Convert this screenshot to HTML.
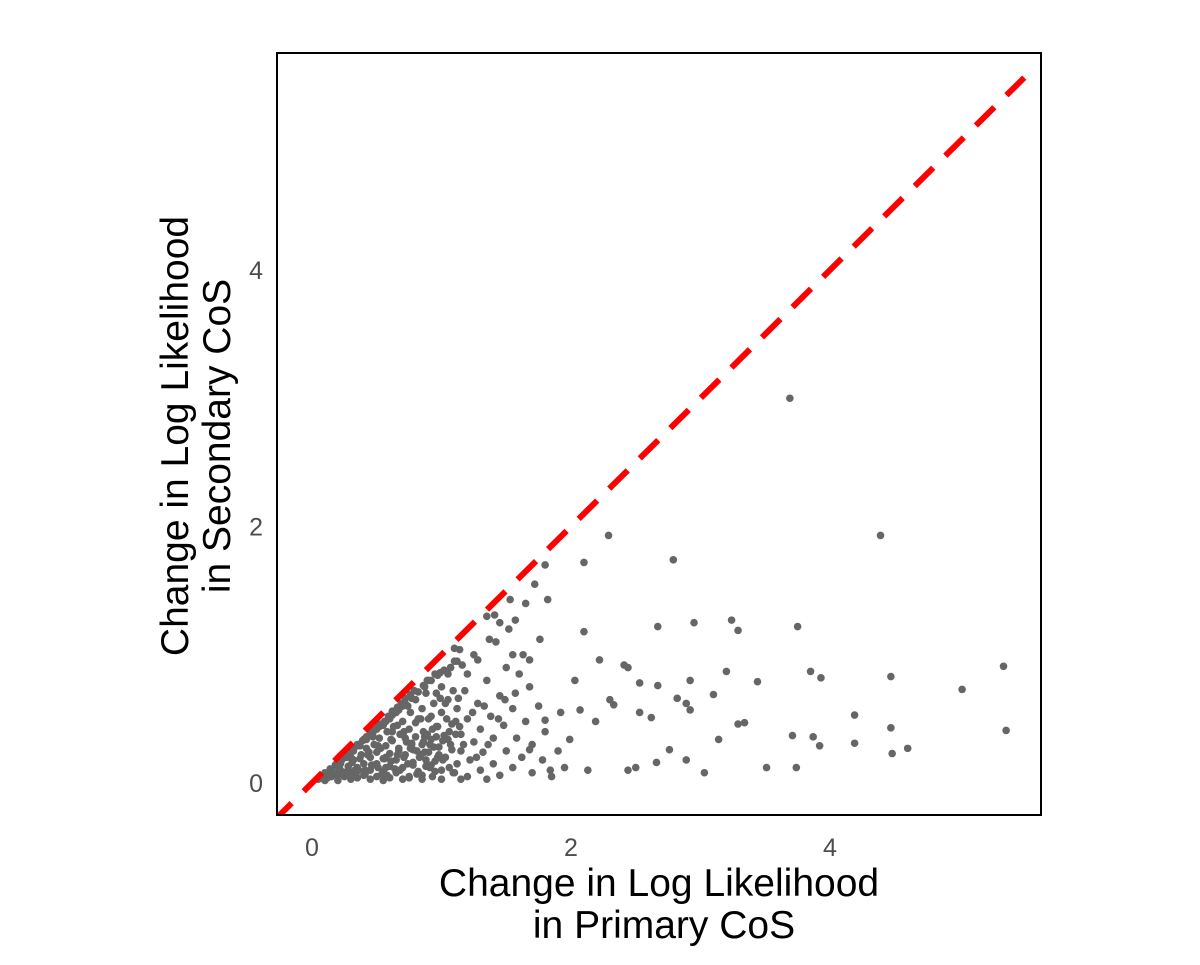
<!DOCTYPE html>
<html><head><meta charset="utf-8"><style>
body{margin:0;background:#fff;}
svg text{font-family:"Liberation Sans",sans-serif;}
</style></head><body>
<svg id="chart" width="1200" height="960" xmlns="http://www.w3.org/2000/svg">
<rect x="0" y="0" width="1200" height="960" fill="#fff"/>
<defs><clipPath id="clip"><rect x="277" y="53" width="764" height="762"/></clipPath></defs>
<g id="points" clip-path="url(#clip)"></g>
<g id="refline" clip-path="url(#clip)"></g>
<rect x="277" y="53" width="764" height="762" fill="none" stroke="#000" stroke-width="2"/>
<g id="xticks"></g>
<g id="yticks"></g>
<text x="659" y="896" font-size="39" text-anchor="middle" fill="#000">Change in Log Likelihood</text>
<text x="664" y="938" font-size="39" text-anchor="middle" fill="#000">in Primary CoS</text>
<text transform="translate(188,436) rotate(-90)" font-size="39" text-anchor="middle" fill="#000">Change in Log Likelihood</text>
<text transform="translate(230,436) rotate(-90)" font-size="39" text-anchor="middle" fill="#000">in Secondary CoS</text>
</svg>
<script>
const xTicks=[0,2,4];
const yTicks=[0,2,4];
const xs=[3.69,4.39,2.29,2.79,2.10,1.80,5.34,5.02,4.47,5.36,4.19,4.47,4.60,4.48,4.19,3.92,3.93,3.85,3.87,3.74,3.75,3.71,3.51,3.44,3.29,3.34,3.24,3.29,3.20,3.10,2.95,3.03,2.92,3.14,2.89,2.82,2.92,2.67,2.67,2.53,2.41,2.44,2.30,2.33,2.19,2.53,2.62,2.76,2.89,2.66,2.50,2.44,2.10,2.22,2.03,2.07,1.99,2.13,1.84,1.82,1.76,1.68,1.57,1.53,1.41,1.37,1.28,1.14,1.80,1.68,1.49,
0.05,0.08,0.1,0.12,0.15,0.15,0.18,0.2,0.2,0.22,0.25,0.25,0.28,0.3,0.3,0.32,0.35,0.35,0.35,0.38,0.4,0.4,0.4,0.42,0.45,0.45,0.45,0.48,0.5,0.5,0.5,0.5,0.52,0.55,0.55,0.55,0.57,0.58,0.6,0.6,0.6,0.6,0.62,0.63,0.65,0.65,0.65,0.67,0.68,0.7,0.7,0.7,0.72,0.73,0.75,0.75,0.76,0.78,0.78,0.8,0.8,0.8,0.82,0.83,0.85,0.85,0.86,0.88,0.88,0.9,0.9,0.92,0.93,0.94,0.95,0.96,0.98,1.0,1.0,1.0,1.02,1.03,1.05,1.05,1.07,1.08,1.1,1.1,1.12,1.12,1.15,1.15,1.18,1.2,1.2,1.22,1.25,1.25,1.28,1.3,1.3,1.32,1.35,1.38,1.4,1.4,1.42,1.45,1.45,1.48,1.5,1.52,1.55,1.55,1.58,1.6,1.62,1.65,1.65,1.7,1.7,1.72,1.75,1.78,1.8,1.85,1.9,1.92,1.95,0.3,0.33,0.43,0.47,0.53,0.57,0.62,0.66,0.72,0.74,0.77,0.84,0.87,0.89,0.93,0.97,0.99,1.04,1.06,1.09,1.14,1.17,1.24,1.27,1.33,1.36,1.44,1.5,1.57,1.63,1.68,0.1,0.2,0.3,0.45,0.55,0.7,0.85,1.0,1.15,1.35,0.95,0.9,1.1,1.2,1.35,1.45,1.55,
0.12,0.14,0.17,0.19,0.21,0.23,0.24,0.26,0.27,0.29,0.31,0.33,0.34,0.36,0.37,0.39,0.41,0.42,0.44,0.46,0.47,0.49,0.51,0.52,0.54,0.56,0.57,0.59,0.61,0.62,0.64,0.66,0.67,0.69,0.71,0.72,0.74,0.76,0.77,0.79,0.81,0.82,0.84,0.86,0.87,0.89,0.91,0.92,0.94,0.96,0.97,0.99,1.01,1.03,1.05,1.07,1.09,1.11,1.13,1.16,
0.16,0.22,0.27,0.32,0.37,0.42,0.47,0.52,0.57,0.62,0.67,0.72,0.77,0.82,0.87,0.92,0.97,1.02,1.07,1.12,0.26,0.36,0.46,0.56,0.66,0.76,0.86,0.96,1.06,0.41,0.51,0.61,0.71,0.81,0.91,1.01,1.11,0.58,0.68,0.78,0.88,0.98,1.08,0.75,0.85,0.95,0.92];
const ys=[3.00,1.93,1.93,1.74,1.72,1.70,0.91,0.73,0.83,0.41,0.53,0.43,0.27,0.23,0.31,0.29,0.82,0.87,0.36,0.12,1.22,0.37,0.12,0.79,0.46,0.47,1.27,1.19,0.87,0.69,1.25,0.08,0.57,0.34,0.62,0.66,0.80,1.22,0.76,0.78,0.92,0.90,0.65,0.61,0.48,0.55,0.51,0.26,0.18,0.16,0.12,0.10,1.18,0.96,0.80,0.57,0.34,0.10,0.10,1.43,1.12,0.96,1.27,1.43,1.31,1.12,0.96,1.04,0.49,0.26,0.65,
0.03,0.05,0.08,0.04,0.1,0.05,0.14,0.06,0.17,0.1,0.2,0.05,0.13,0.25,0.08,0.18,0.3,0.04,0.12,0.22,0.34,0.06,0.15,0.27,0.38,0.1,0.2,0.3,0.42,0.05,0.15,0.24,0.35,0.45,0.09,0.19,0.29,0.4,0.5,0.04,0.13,0.23,0.33,0.44,0.55,0.08,0.18,0.27,0.38,0.48,0.6,0.12,0.22,0.32,0.42,0.05,0.55,0.16,0.26,0.36,0.65,0.47,0.09,0.2,0.3,0.58,0.4,0.13,0.7,0.24,0.5,0.34,0.05,0.62,0.17,0.44,0.28,0.75,0.1,0.55,0.37,0.2,0.85,0.65,0.3,0.46,0.08,0.95,0.15,0.58,0.25,0.38,0.72,0.05,0.5,0.18,0.32,1.0,0.62,0.1,0.42,0.24,0.8,0.52,0.15,0.35,1.1,0.06,0.68,0.45,0.25,1.2,0.12,0.58,0.35,0.85,0.2,1.4,0.48,0.08,0.3,1.55,0.6,0.18,0.4,0.05,0.25,0.55,0.12,0.2,0.1,0.22,0.36,0.27,0.12,0.4,0.45,0.35,0.6,0.3,0.5,0.24,0.38,0.42,0.2,0.66,0.5,0.12,0.72,0.44,0.3,0.55,0.2,0.6,0.3,0.5,0.9,0.7,1.0,0.75,0.02,0.02,0.03,0.03,0.02,0.03,0.03,0.03,0.03,0.03,0.85,0.8,1.05,0.85,1.3,1.25,1.0,
0.07,0.11,0.08,0.15,0.12,0.18,0.07,0.2,0.09,0.24,0.16,0.28,0.07,0.3,0.19,0.33,0.1,0.36,0.24,0.4,0.14,0.43,0.29,0.46,0.07,0.48,0.2,0.52,0.34,0.56,0.11,0.59,0.25,0.62,0.4,0.66,0.15,0.69,0.31,0.72,0.07,0.5,0.22,0.76,0.36,0.8,0.12,0.52,0.28,0.7,0.44,0.86,0.18,0.62,0.34,0.9,0.08,0.48,0.66,0.92,
0.09,0.15,0.2,0.25,0.29,0.34,0.39,0.44,0.48,0.53,0.57,0.62,0.66,0.71,0.75,0.8,0.84,0.88,0.9,0.95,0.07,0.1,0.14,0.19,0.22,0.27,0.32,0.36,0.4,0.07,0.12,0.17,0.2,0.25,0.3,0.33,0.38,0.06,0.1,0.14,0.18,0.22,0.26,0.04,0.06,0.09,0.14];
const lineEnd=[-0.3,5.5];
const NS="http://www.w3.org/2000/svg";
function sx(v){return 312+v*129.5;}
function sy(v){return 783-v*128.25;}
const pg=document.getElementById('points');
const n=Math.min(xs.length,ys.length);
for(let i=0;i<n;i++){
 const c=document.createElementNS(NS,'circle');
 
 
 c.setAttribute('cx',sx(xs[i]));c.setAttribute('cy',sy(ys[i]));c.setAttribute('r',3.8);c.setAttribute('fill','#666');
 pg.appendChild(c);
}
const l=document.createElementNS(NS,'line');


l.setAttribute('x1',sx(lineEnd[0]));l.setAttribute('y1',sy(lineEnd[0]));l.setAttribute('x2',sx(lineEnd[1]));l.setAttribute('y2',sy(lineEnd[1]));
l.setAttribute('stroke','#ff0000');l.setAttribute('stroke-width',6);l.setAttribute('stroke-dasharray','26 17');
document.getElementById('refline').appendChild(l);
const xg=document.getElementById('xticks');
xTicks.forEach(t=>{const e=document.createElementNS(NS,'text');
 
 
 e.setAttribute('x',sx(t));e.setAttribute('y',856);e.setAttribute('font-size',25);e.setAttribute('text-anchor','middle');e.setAttribute('fill','#4d4d4d');e.textContent=t;xg.appendChild(e);});
const yg=document.getElementById('yticks');
yTicks.forEach(t=>{const e=document.createElementNS(NS,'text');
 
 
 e.setAttribute('x',263);e.setAttribute('y',sy(t)+9);e.setAttribute('font-size',25);e.setAttribute('text-anchor','end');e.setAttribute('fill','#4d4d4d');e.textContent=t;yg.appendChild(e);});
</script>
</body></html>
